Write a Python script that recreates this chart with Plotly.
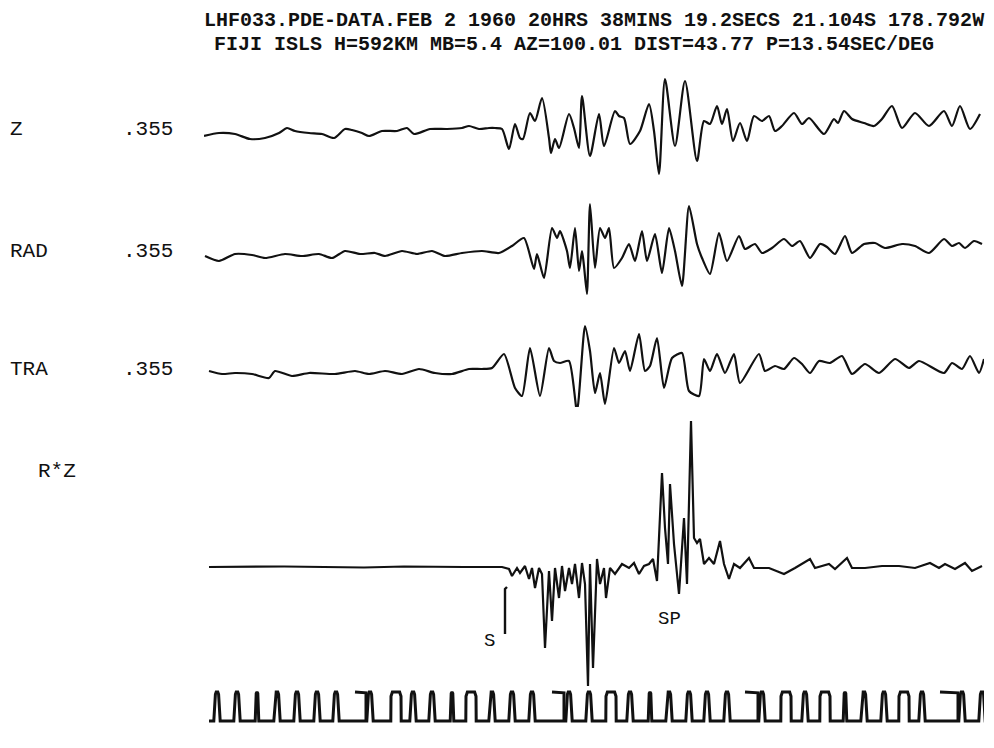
import plotly.graph_objects as go

# ---------------- data (time in s, amplitude in counts) ----------------
title1 = "LHF033.PDE-DATA.FEB 2 1960 20HRS 38MINS 19.2SECS 21.104S 178.792W"
title2 = "FIJI ISLS H=592KM MB=5.4 AZ=100.01 DIST=43.77 P=13.54SEC/DEG"
channels = ["Z", "RAD", "TRA"]
gains = [".355", ".355", ".355"]
product_label = "R*Z"

t_z = [0, 7.5, 15.5, 23, 30.5, 37.5, 41.5, 45.5, 52.5, 59, 65, 70.5, 74, 79, 82.5, 89, 96.5,
       101.5, 105, 113, 121.5, 129, 132.5, 137.5, 142.5, 145.5, 149, 152.5, 155.5, 158, 159.5,
       163, 165.5, 169, 172.5, 173.5, 175.5, 177.5, 182.5, 185, 187.5, 189, 193, 197.5, 200,
       205.5, 207.5, 210, 213, 218, 222.5, 225, 227.5, 230.5, 235.5, 240.5, 246.5, 250, 253,
       256.5, 259, 261.5, 264.5, 268, 271.5, 275, 279, 282.5, 285.5, 289, 295, 299, 302.5, 310,
       315, 317, 320, 324, 330, 335, 339, 344, 349, 355.5, 362.5, 370, 374, 378, 383, 388]
z = [-5, -2, -3, -8, -7, -2, 3, 0, -2, -3, -7, 2, 1, -2, -5, 0, 0,
     3, -3, 2, 2, 3, 5, 2, 3, 3, 2, -18, 7, -7, -8,
     18, 10, 33, -7, -22, -8, -17, 17, 3, -17, 35, -25, 17, -15,
     20, 15, 13, -13, 0, 27, 0, -43, 52, -15, 50, -30, 10, 7,
     25, 7, 22, -10, 8, -10, 15, 10, 15, 0, 5, 18, 7, 13, -3,
     12, 8, 20, 12, 8, 5, 12, 25, 3, 18, 5, 20, 5, 25, 2, 17]

t_rad = [0.5, 7.5, 15.5, 24, 30.5, 40.5, 49, 57.5, 64, 70.5, 78, 85.5, 90.5, 99, 106.5, 114,
         120.5, 129, 139, 147.5, 154, 160, 165, 166.5, 170, 174, 176.5, 178, 181.5, 183, 185.5,
         187.5, 189, 190, 191.5, 193, 195.5, 198, 200.5, 202.5, 205, 209, 212.5, 215.5, 219,
         221.5, 225.5, 229, 232.5, 235.5, 239, 242.5, 246.5, 249, 253, 257.5, 261.5, 267.5,
         270.5, 275.5, 279, 284, 290, 294, 298, 303, 308, 311.5, 315.5, 320.5, 324, 330, 335.5,
         340.5, 349, 355.5, 362.5, 370, 374, 377.5, 380.5, 385, 389]
rad = [-2, -7, 0, -1, -4, 0, -2, 0, -4, 3, 0, 1, -2, 3, 0, 3,
       -2, 1, 3, 1, 8, 16, -15, 0, -24, 26, 16, 23, 3, -14, 26,
       -17, 3, -12, -40, 50, -14, 26, 16, 26, -14, -4, 10, -7, 23,
       -7, 20, -19, 26, 3, -32, 48, 10, -4, -20, 21, -7, 18,
       5, 10, 1, 6, 15, 8, 13, -4, 10, 7, 0, 18, 1, 10, 11,
       6, 10, 8, 1, 15, 8, 11, 6, 13, 10]

t_tra = [2.5, 9, 15.5, 24, 32.5, 35.5, 44, 52.5, 65.5, 75.5, 82.5, 90.5, 99, 107.5, 115.5, 124,
         132.5, 139, 144, 150, 155.5, 159, 163, 168, 172.5, 175, 178, 182.5, 186.5, 190.5, 193,
         195.5, 198, 200.5, 205, 207.5, 210.5, 213, 217.5, 220.5, 223, 226.5, 230, 234, 239,
         242.5, 247.5, 250, 253, 256.5, 260.5, 265, 268, 277.5, 280.5, 285.5, 290, 295, 299,
         303, 307.5, 313, 319, 324, 330.5, 337.5, 345.5, 352.5, 357.5, 370, 374, 379, 383,
         387.5, 390]
tra = [2, -1, 0, -1, -5, 2, -3, 0, -1, 2, -1, 2, -1, 4, 0, -1,
       4, 4, 5, 19, -15, -23, 25, -23, 25, 12, 10, 12, -38, 47, 22,
       -20, 0, -31, 25, 10, 22, 2, 39, 2, 7, 35, -15, 15, 20,
       -18, -23, 14, 2, 19, 0, 19, -10, 19, 2, 7, 4, 15, 9,
       0, 12, 10, 17, -1, 9, 0, 14, 5, 12, 0, 10, 4, 17,
       0, 14]

t_rz = [2.5, 40, 80, 100, 130, 149, 152.5, 154, 156.5, 158, 160.5, 162.5, 164, 165.5, 167.5,
        169, 170.5, 172.5, 174, 175.5, 177.5, 179, 180.5, 182.5, 184, 185.5, 187.5, 189, 190.5,
        192, 193, 194.5, 196.5, 198, 200, 201, 203, 205.5, 209, 212.5, 215, 217.5, 220, 222.5,
        224.5, 226.5, 229, 230.5, 232, 233, 235, 237.5, 240, 241.5, 243.5, 245, 246.5, 248, 250,
        252.5, 255, 258, 260, 262.5, 265, 268, 272.5, 275, 282.5, 290, 295.5, 303, 305.5, 312.5,
        315.5, 321.5, 324, 330.5, 339, 347.5, 355.5, 363, 367.5, 370.5, 375.5, 380.5, 384, 389]
rz = [0, 0.5, -0.5, 0.5, 0, 0, -2, -9, -1, -6, 1, -12, -1, -21, -1,
      -7, -81, -4, -54, -1, -31, 1, -24, -1, -17, 3, -31, 4, -17,
      -119, 3, -101, 8, -17, -1, -31, -1, -7, 3, -1, 4, -7, 1, 3,
      8, -14, 94, 39, 3, 83, 23, -27, 49, -17, 146, 29, 24, 28, 3,
      9, 3, 26, 3, -12, 3, -1, 9, -1, -1, -7, -1, 8, -1, 3,
      -2, 9, -1, -1, 1, 1, -1, 4, -1, 3, -2, 4, -4, 1]

# phase picks on the R*Z trace
s_pick_t = [150.5, 150.5, 151.5]
s_pick_a = [-67, -22, -20]
phase_names = ["S", "SP"]
phase_label_t = [142.5, 232.5]
phase_label_a = [-74, -52]

# timing channel: pulse times, pulse kind (n=narrow, w=wide, t=thin), minute marks
pulse_t = [6.5, 16.5, 26.5, 36.5, 46.5, 56.5, 66, 83, 96, 104.5, 114, 124, 133.5, 144, 154, 164,
           182.5, 192.5, 203.5, 213, 223, 232.5, 242.5, 251.5, 261.5, 279, 291, 300.5, 310.5,
           320.5, 330, 340, 350, 359, 379, 389]
pulse_kind = ["n", "n", "t", "n", "n", "n", "n", "n", "w", "n", "n", "t", "w", "n", "n", "n",
              "n", "n", "w", "n", "t", "n", "n", "n", "n", "n", "w", "n", "w",
              "t", "n", "n", "w", "n", "n", "n"]
minute_start = [75.5, 174, 270.5, 368]
minute_end = [81, 180, 277, 377]
timing_start, timing_end = 2.5, 391.5

# ---------------- build timing polyline from the pulse list ----------------
shapes_by_kind = {
    "n": [(-1.6, 0), (-0.8, 0.92), (-0.4, 1.0), (0.4, 1.0), (0.8, 0.92), (1.6, 0)],
    "t": [(-0.9, 0), (-0.4, 0.95), (0.0, 1.0), (0.4, 0.95), (0.9, 0)],
    "w": [(-2.6, 0), (-2.5, 0.85), (-1.8, 1.0), (1.8, 1.0), (2.5, 0.85), (2.6, 0)],
}
tm_x, tm_y = [timing_start], [0]
for pt, kind in zip(pulse_t, pulse_kind):
    for dx, dy in shapes_by_kind[kind]:
        tm_x.append(pt + dx)
        tm_y.append(dy)
tm_x.append(timing_end)
tm_y.append(0)
for ms, me in zip(minute_start, minute_end):
    tm_x += [None, ms, me, me]
    tm_y += [None, 1.0, 0.97, 0]

# ---------------- figure ----------------
W, H = 994, 748
ink = "#111111"
fig = go.Figure()

def line(x, y, yaxis, width=2.0, shape="linear", smooth=None):
    kw = dict(color=ink, width=width, shape=shape)
    if smooth is not None:
        kw["smoothing"] = smooth
    fig.add_trace(go.Scatter(x=x, y=y, mode="lines", line=kw, yaxis=yaxis, xaxis="x",
                             hoverinfo="skip", showlegend=False, connectgaps=False))

line(t_z, z, "y", 2.2, "spline", 0.7)
line(t_rad, rad, "y2", 2.2, "spline", 0.6)
line(t_tra, tra, "y3", 2.2, "spline", 0.6)
line(t_rz, rz, "y4", 2.2)
line(s_pick_t, s_pick_a, "y4", 2.4)
line(tm_x, tm_y, "y5", 3.0)

def px_y(py):
    return 1 - py / H

def yax(top_px, bot_px, base_px, unit=1.0):
    return dict(domain=[px_y(bot_px), px_y(top_px)],
                range=[(base_px - bot_px) / unit, (base_px - top_px) / unit],
                visible=False, anchor="x", fixedrange=True)

base_z, base_rad, base_tra, base_rz = 123, 246, 365, 559
tm_bottom, tm_top = 713, 684

fig.update_layout(
    width=W, height=H,
    margin=dict(l=0, r=0, t=0, b=0),
    paper_bgcolor="white", plot_bgcolor="white",
    showlegend=False,
    xaxis=dict(domain=[196 / W, 976 / W], range=[0, 390], visible=False, anchor="y", fixedrange=True),
    yaxis=yax(base_z - 75, base_z + 75, base_z),
    yaxis2=yax(base_rad - 65, base_rad + 65, base_rad),
    yaxis3=yax(base_rad + 60, base_tra + 55, base_tra),
    yaxis4=yax(base_rz - 160, base_rz + 130, base_rz),
    yaxis5=yax(tm_top - 10, tm_bottom + 10, tm_bottom, float(tm_bottom - tm_top)),
)

font_title = dict(family="Liberation Mono, DejaVu Sans Mono, monospace", size=20, color=ink)
font_label = dict(family="Liberation Mono, DejaVu Sans Mono, monospace", size=21, color=ink)

def bold(s):
    return "<b>" + s + "</b>"

ann = []
ann.append(dict(text=bold(title1), x=194 / W, y=px_y(13), xref="paper", yref="paper",
                xanchor="left", yanchor="middle", showarrow=False, font=font_title))
ann.append(dict(text=bold(title2), x=204 / W, y=px_y(37), xref="paper", yref="paper",
                xanchor="left", yanchor="middle", showarrow=False, font=font_title))
label_rows = [122, 243, 361]
for name, gain, row in zip(channels, gains, label_rows):
    ann.append(dict(text=name, x=0 / W, y=px_y(row), xref="paper", yref="paper",
                    xanchor="left", yanchor="middle", showarrow=False, font=font_label))
    ann.append(dict(text=gain, x=113 / W, y=px_y(row), xref="paper", yref="paper",
                    xanchor="left", yanchor="middle", showarrow=False, font=font_label))
ann.append(dict(text=product_label, x=28 / W, y=px_y(463), xref="paper", yref="paper",
                xanchor="left", yanchor="middle", showarrow=False, font=font_label))
for name, tt, aa in zip(phase_names, phase_label_t, phase_label_a):
    ann.append(dict(text=name, x=tt, y=aa, xref="x", yref="y4", xanchor="center",
                    yanchor="middle", showarrow=False, font=dict(font_label, size=19)))
fig.update_layout(annotations=ann)

fig.write_html("out.html")
